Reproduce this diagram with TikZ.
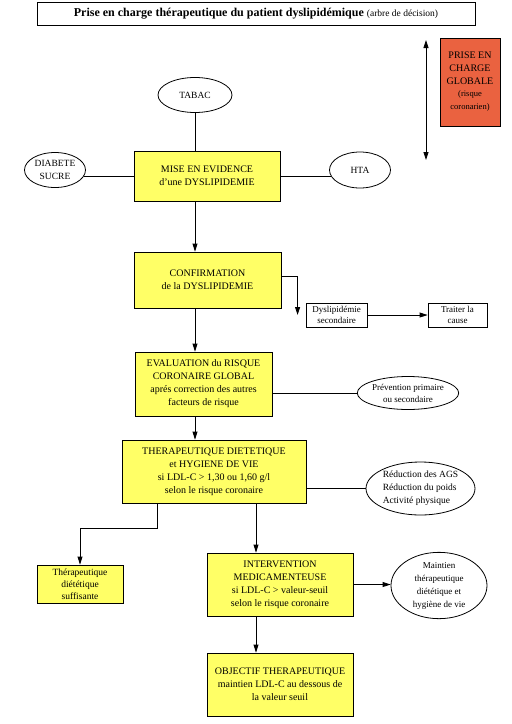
\documentclass[tikz,border=0pt]{standalone}
\usepackage{fontspec}
\setmainfont{Liberation Serif}
\usetikzlibrary{shapes.geometric,arrows.meta}

\definecolor{boxyellow}{RGB}{255,255,102}
\definecolor{globalred}{RGB}{234,98,64}

\begin{document}
\begin{tikzpicture}[x=1pt, y=-1pt,
    line width=0.8pt,
    every node/.style={font=\fontsize{10}{13}\selectfont, align=center, inner sep=0pt},
    stepbox/.style={draw, fill=boxyellow, rectangle},
    sidebox/.style={draw, fill=white, rectangle, font=\fontsize{9}{11}\selectfont},
    factor/.style={draw, ellipse, font=\fontsize{9.5}{13}\selectfont},
    arr/.style={-{Triangle[width=5pt,length=8pt]}}]
        \useasboundingbox (0,0) rectangle (512,724);

        \node [draw, minimum width=438, minimum height=23] (title) at (256,13.5)
            {\fontsize{12}{14}\selectfont\textbf{Prise en charge thérapeutique du patient dyslipidémique} {\fontsize{9.5}{11}\selectfont (arbre de décision)}};

        \node [draw, fill=globalred, minimum width=60, minimum height=88] (global) at (470,82)
            {PRISE EN\\CHARGE\\GLOBALE\\[-1pt]{\fontsize{8.5}{10}\selectfont (risque}\\{\fontsize{8.5}{10}\selectfont coronarien)}};
        \coordinate (gtop) at (426,40);
        \coordinate (gbot) at (426,160);
        \draw [{Triangle[width=5pt,length=8pt]}-{Triangle[width=5pt,length=8pt]}] (gtop) -- (gbot);

        \node [factor, minimum width=74, minimum height=35] (tabac) at (195,95) {TABAC};
        \node [factor, minimum width=61, minimum height=35] (diabete) at (55,170) {DIABETE\\SUCRE};
        \node [factor, minimum width=61, minimum height=36] (hta) at (360,170) {HTA};
        \node [stepbox, minimum width=146, minimum height=50] (mise) at (207,176)
            {MISE EN EVIDENCE\\d'une DYSLIPIDEMIE};

        \node [stepbox, minimum width=147, minimum height=56] (confirm) at (207.5,280)
            {CONFIRMATION\\de la DYSLIPIDEMIE};
        \node [sidebox, minimum width=61, minimum height=24] (secondaire) at (336.5,315)
            {Dyslipidémie\\secondaire};
        \node [sidebox, minimum width=59, minimum height=24] (cause) at (457.5,315)
            {Traiter la\\cause};

        \node [stepbox, minimum width=137, minimum height=64] (risque) at (203.5,384)
            {EVALUATION du RISQUE\\CORONAIRE GLOBAL\\aprés correction des autres\\facteurs de risque};
        \node [factor, minimum width=87, minimum height=33, font=\fontsize{9}{12}\selectfont] (prevention) at (408,393)
            {Prévention primaire\\ou secondaire};

        \node [stepbox, minimum width=184, minimum height=63] (dietetique) at (214,471.5)
            {THERAPEUTIQUE DIETETIQUE\\et HYGIENE DE VIE\\si LDL-C > 1,30 ou 1,60 g/l\\selon le risque coronaire};
        \node [factor, minimum width=109, minimum height=53, align=left] (reduction) at (420.5,488.5)
            {Réduction des AGS\\Réduction du poids\\Activité physique};

        \node [stepbox, minimum width=86, minimum height=38, font=\fontsize{9.5}{12}\selectfont] (suffisante) at (80,584)
            {Thérapeutique\\diététique\\suffisante};
        \node [stepbox, minimum width=146, minimum height=63] (medicament) at (280,584.5)
            {INTERVENTION\\MEDICAMENTEUSE\\si LDL-C > valeur-seuil\\selon le risque coronaire};
        \node [factor, minimum width=96, minimum height=61, font=\fontsize{9}{13}\selectfont] (maintien) at (439,585.5)
            {Maintien\\thérapeutique\\diététique et\\hygiène de vie};

        \node [stepbox, minimum width=146, minimum height=63] (objectif) at (280,684.5)
            {OBJECTIF THERAPEUTIQUE\\maintien LDL-C au dessous de\\la valeur seuil};

        \coordinate (spine) at (195,0);
        \coordinate (spinetwo) at (256,0);

        \draw (tabac.south) -- (tabac.south |- mise.north);
        \draw (diabete.-12) -- (diabete.-12 -| mise.west);
        \draw (hta.192) -- (hta.192 -| mise.east);
        \draw [arr] (spine |- mise.south) -- (spine |- confirm.north);

        \draw [arr] ([yshift=4pt]confirm.east) -| ([xshift=-8pt]secondaire.west);
        \draw [arr] (secondaire.east) -- (cause.west);
        \draw [arr] (spine |- confirm.south) -- (spine |- risque.north);

        \draw (prevention.west) -- (prevention.west -| risque.east);
        \draw [arr] (spine |- risque.south) -- (spine |- dietetique.north);

        \draw (reduction.west) -- (reduction.west -| dietetique.east);
        \draw [arr] ([xshift=-57pt]dietetique.south) -- ++(0,25) -| (suffisante.north);
        \draw [arr] (spinetwo |- dietetique.south) -- (spinetwo |- medicament.north);

        \draw [arr] (medicament.east) -- (medicament.east -| maintien.west);
        \draw [arr] (spinetwo |- medicament.south) -- (spinetwo |- objectif.north);
      \end{tikzpicture}
\end{document}
